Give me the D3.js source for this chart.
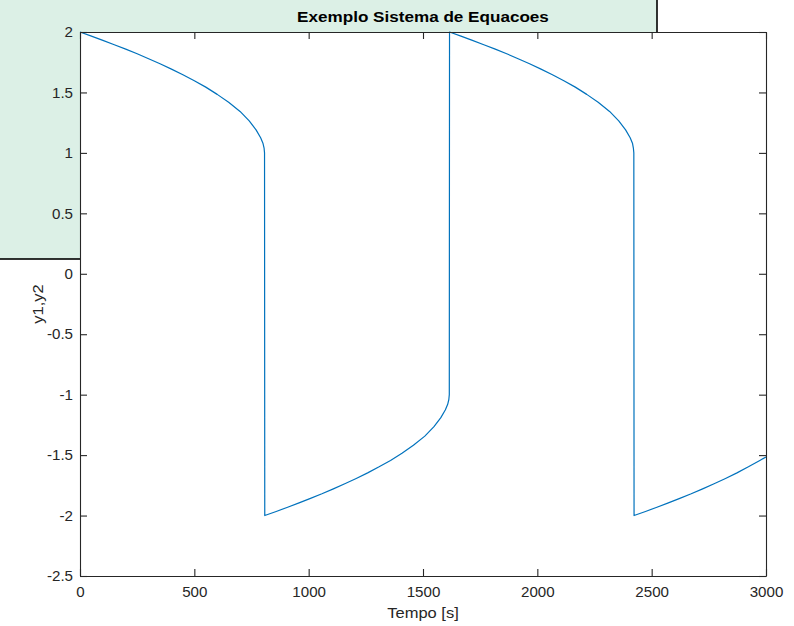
<!DOCTYPE html>
<html>
<head>
<meta charset="utf-8">
<script src="https://cdn.jsdelivr.net/npm/d3@7"></script>
<style>
  body { margin: 0; background: #fff; }
  text { font-family: "Liberation Sans", Arial, Helvetica, sans-serif; fill: #262626; }
</style>
</head>
<body>
<div id="chart"></div>
<script>
'use strict';

/*** Data: [tempo, y] */
/** Branch 1: y1 falls from 2 to about 1, then jumps */
const ramo1 = [
  [0, 2], [50, 1.966], [100, 1.931], [150, 1.895], [200, 1.858], [250, 1.82],
  [300, 1.779], [350, 1.737], [400, 1.693], [450, 1.647], [500, 1.597],
  [550, 1.544], [600, 1.484], [650, 1.419], [700, 1.343], [740, 1.265],
  [770, 1.19], [790, 1.125], [800, 1.08], [805, 1.04], [807, 1.0]
];
/** Branch 2: after the jump, rises from -2 to about -1 */
const ramo2 = [
  [808, -2], [858, -1.966], [908, -1.931], [958, -1.895], [1008, -1.858], [1058, -1.82],
  [1108, -1.779], [1158, -1.737], [1208, -1.693], [1258, -1.647], [1308, -1.597],
  [1358, -1.544], [1408, -1.484], [1458, -1.419], [1508, -1.343], [1548, -1.265],
  [1578, -1.19], [1598, -1.125], [1608, -1.08], [1613, -1.04], [1615, -1.0]
];
/** Branch 3 */
const ramo3 = [
  [1616, 2], [1666, 1.966], [1716, 1.931], [1766, 1.895], [1816, 1.858], [1866, 1.82],
  [1916, 1.779], [1966, 1.737], [2016, 1.693], [2066, 1.647], [2116, 1.597],
  [2166, 1.544], [2216, 1.484], [2266, 1.419], [2316, 1.343], [2356, 1.265],
  [2386, 1.19], [2406, 1.125], [2416, 1.08], [2420, 1.04], [2422, 1.0]
];
/** Branch 4, cut at the end of the window */
const ramo4 = [
  [2423, -2], [2473, -1.966], [2523, -1.931], [2573, -1.895], [2623, -1.858], [2673, -1.82],
  [2723, -1.779], [2773, -1.737], [2823, -1.693], [2873, -1.647], [2923, -1.597],
  [2973, -1.544], [3000, -1.515]
];
const serie = ramo1.concat(ramo2, ramo3, ramo4);

/** Ticks and texts */
const xTicks = [0, 500, 1000, 1500, 2000, 2500, 3000];
const yTicks = [-2.5, -2, -1.5, -1, -0.5, 0, 0.5, 1, 1.5, 2];
const titulo = "Exemplo Sistema de Equacoes";
const xRotulo = "Tempo [s]";
const yRotulo = "y1,y2";

/*** Layout */
const w = 794;
const h = 626;
const margin = {left: 80, top: 32, right: 28, bottom: 50};
const x0 = margin.left, x1 = w - margin.right;
const y0 = margin.top, y1 = h - margin.bottom;
const tick = 7;
const sx = 1.08; // glyphs in the picture are a bit wider than Arial

const svg = d3.select("#chart")
  .append("svg")
  .attr("width", w)
  .attr("height", h);

/* Green panel behind the axes */
svg.append("rect")
  .attr("x", -2).attr("y", -2)
  .attr("width", 659).attr("height", 261)
  .attr("fill", "#dcf0e6")
  .attr("stroke", "#000")
  .attr("stroke-width", 1.6);

/* White axes area */
svg.append("rect")
  .attr("x", x0).attr("y", y0)
  .attr("width", x1 - x0).attr("height", y1 - y0)
  .attr("fill", "#fff");

/** Scales */
const xScale = d3.scaleLinear().domain([0, 3000]).range([x0, x1]);
const yScale = d3.scaleLinear().domain([-2.5, 2]).range([y1, y0]);

/** Line */
const line = d3.line()
  .x(d => xScale(d[0]))
  .y(d => yScale(d[1]));

svg.append("path")
  .datum(serie)
  .attr("d", line)
  .attr("fill", "none")
  .attr("stroke", "#0072bd")
  .attr("stroke-width", 1.2)
  .attr("stroke-linejoin", "round");

/** Axes (inward ticks, box on) */
const fmt = d => String(d);

const gx = svg.append("g")
  .attr("transform", "translate(0," + y1 + ")")
  .call(d3.axisBottom(xScale).tickValues(xTicks).tickFormat(fmt)
    .tickSizeInner(-tick).tickSizeOuter(0).tickPadding(11));

const gxTop = svg.append("g")
  .attr("transform", "translate(0," + y0 + ")")
  .call(d3.axisTop(xScale).tickValues(xTicks).tickFormat("")
    .tickSizeInner(-tick).tickSizeOuter(0));

const gy = svg.append("g")
  .attr("transform", "translate(" + x0 + ",0)")
  .call(d3.axisLeft(yScale).tickValues(yTicks).tickFormat(fmt)
    .tickSizeInner(-tick).tickSizeOuter(0).tickPadding(7 / sx));

const gyRight = svg.append("g")
  .attr("transform", "translate(" + x1 + ",0)")
  .call(d3.axisRight(yScale).tickValues(yTicks).tickFormat("")
    .tickSizeInner(-tick).tickSizeOuter(0));

[gx, gxTop, gy, gyRight].forEach(g => {
  g.select(".domain").attr("stroke", "#262626").attr("stroke-width", 1.1);
  g.selectAll(".tick line").attr("stroke", "#262626").attr("stroke-width", 1.1);
  g.selectAll(".tick text")
    .attr("fill", "#262626")
    .style("font-size", "14px")
    .style("font-family", "'Liberation Sans', Arial, sans-serif");
});
gx.selectAll(".tick text").attr("transform", "scale(" + sx + ",1)");
gy.selectAll(".tick text").attr("transform", "scale(" + sx + ",1)").attr("dy", "0.34em");

/** Title and labels */
svg.append("text")
  .attr("transform", "translate(" + ((x0 + x1) / 2) + ",22) scale(1.14,1)")
  .attr("text-anchor", "middle")
  .style("font-size", "15px")
  .style("font-weight", "bold")
  .style("fill", "#000")
  .text(titulo);

svg.append("text")
  .attr("transform", "translate(" + ((x0 + x1) / 2) + ",618) scale(1.1,1)")
  .attr("text-anchor", "middle")
  .style("font-size", "15px")
  .text(xRotulo);

svg.append("text")
  .attr("transform", "translate(43," + ((y0 + y1) / 2) + ") rotate(-90) scale(1.1,1)")
  .attr("text-anchor", "middle")
  .style("font-size", "15px")
  .text(yRotulo);
</script>
</body>
</html>
